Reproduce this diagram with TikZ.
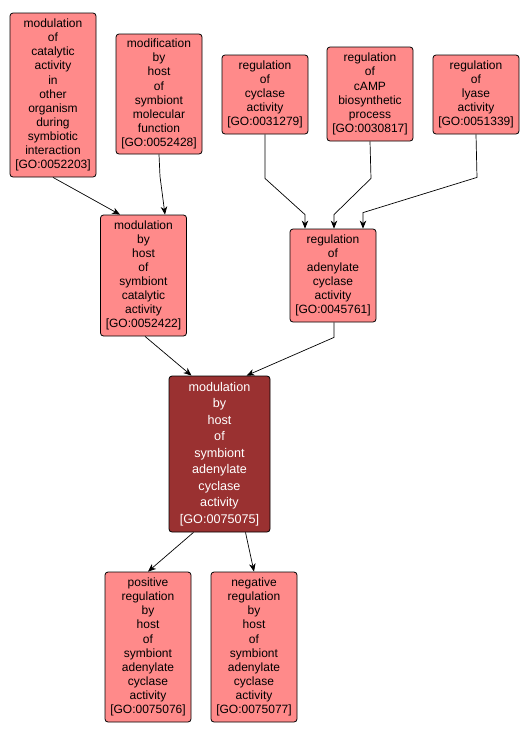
\documentclass[tikz,border=0pt]{standalone}
\usepackage{fontspec}
\setmainfont{Liberation Sans}
\usepackage{xcolor}
\usetikzlibrary{
    arrows.meta,
    positioning
}

\definecolor{golight}{HTML}{FF8A8A}
\definecolor{godark}{HTML}{9A3131}

\begin{document}
\begin{tikzpicture}[
    x=1pt,
    y=-1pt,
    >={Stealth[length=8pt,width=6.5pt,inset=2.5pt]},
    goterm/.style={
        rectangle,
        rounded corners=3pt,
        draw=black,
        line width=0.8pt,
        fill=golight,
        align=center,
        inner sep=0pt,
        minimum width=86pt,
        font=\fontsize{12}{14.1}\selectfont
    },
    gofocus/.style={
        goterm,
        fill=godark,
        text=white,
        minimum width=101pt,
        font=\fontsize{12.6}{16.5}\selectfont
    },
    goedge/.style={
        ->,
        line width=0.7pt
    }
]

\useasboundingbox (0,0) rectangle (530,737);

% ============================================================
% TOP ROW
% ============================================================

\node[goterm, minimum height=164pt]
    (gomcat) at (53,95)
{
modulation\\ of\\ catalytic\\ activity\\ in\\ other\\ organism\\
during\\ symbiotic\\ interaction\\ {}[GO:0052203]
};

\node[goterm, minimum height=120pt]
    (gomodif) at (159,94)
{
modification\\ by\\ host\\ of\\ symbiont\\ molecular\\ function\\
{}[GO:0052428]
};

\node[goterm, minimum height=79pt]
    (gocyc) at (265,94.5)
{
regulation\\ of\\ cyclase\\ activity\\ {}[GO:0031279]
};

\node[goterm, minimum height=94pt]
    (gocamp) at (370,94)
{
regulation\\ of\\ cAMP\\ biosynthetic\\ process\\ {}[GO:0030817]
};

\node[goterm, minimum height=79pt]
    (golyase) at (476,94.5)
{
regulation\\ of\\ lyase\\ activity\\ {}[GO:0051339]
};

% ============================================================
% MIDDLE ROW
% ============================================================

\node[goterm, minimum height=121pt]
    (gosymcat) at (143.5,275.5)
{
modulation\\ by\\ host\\ of\\ symbiont\\ catalytic\\ activity\\
{}[GO:0052422]
};

\node[goterm, minimum height=93pt]
    (goadcyc) at (333,275.5)
{
regulation\\ of\\ adenylate\\ cyclase\\ activity\\ {}[GO:0045761]
};

% ============================================================
% FOCUS TERM
% ============================================================

\node[gofocus, minimum height=156pt]
    (gofocus) at (219.5,454)
{
modulation\\ by\\ host\\ of\\ symbiont\\ adenylate\\ cyclase\\
activity\\ {}[GO:0075075]
};

% ============================================================
% BOTTOM ROW
% ============================================================

\node[goterm, minimum height=150pt]
    (gopos) at (148,647)
{
positive\\ regulation\\ by\\ host\\ of\\ symbiont\\ adenylate\\
cyclase\\ activity\\ {}[GO:0075076]
};

\node[goterm, minimum height=150pt]
    (goneg) at (254,647)
{
negative\\ regulation\\ by\\ host\\ of\\ symbiont\\ adenylate\\
cyclase\\ activity\\ {}[GO:0075077]
};

% ============================================================
% EDGES
% ============================================================

\draw[goedge]
    (gomcat.south) -- ([xshift=-23.5pt]gosymcat.north);

\draw[goedge]
    (gomodif.south) -- ++(1,22)
    -- ([xshift=21.5pt]gosymcat.north);

\draw[goedge]
    (gocyc.south) -- ++(0,44)
    -- ([xshift=-28pt,yshift=14pt]goadcyc.north)
    -- ([xshift=-28pt]goadcyc.north);

\draw[goedge]
    (gocamp.south) -- ++(1,37)
    -- ([xshift=1pt,yshift=14pt]goadcyc.north)
    -- ([xshift=1pt]goadcyc.north);

\draw[goedge]
    (golyase.south) -- ++(1,43)
    -- ([xshift=30pt,yshift=16pt]goadcyc.north)
    -- ([xshift=30pt]goadcyc.north);

\draw[goedge]
    ([xshift=1.5pt]gosymcat.south) -- ([xshift=-28pt]gofocus.north);

\draw[goedge]
    ([xshift=1pt]goadcyc.south) -- ++(0,15)
    -- ([xshift=27pt]gofocus.north);

\draw[goedge]
    ([xshift=-26pt]gofocus.south) -- (gopos.north);

\draw[goedge]
    ([xshift=26pt]gofocus.south) -- (goneg.north);

\end{tikzpicture}
\end{document}
